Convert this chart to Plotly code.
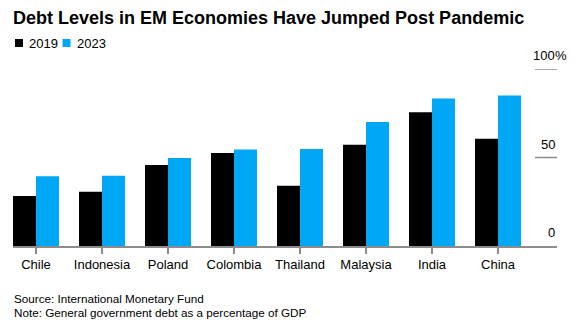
import plotly.graph_objects as go

# Data: general government debt, % of GDP
countries = ["Chile", "Indonesia", "Poland", "Colombia", "Thailand", "Malaysia", "India", "China"]
debt_2019 = [28.3, 30.6, 45.7, 52.6, 34.0, 57.2, 75.6, 60.6]
debt_2023 = [39.4, 39.7, 49.7, 54.5, 54.8, 70.1, 83.4, 85.0]
y_ticks = [0, 50, 100]

BLACK = "#000000"
BLUE = "#00A7F5"
GRID = "#8c8c8c"
FONT = "Liberation Sans, Arial, sans-serif"

W, H = 576, 328
M_L, M_R, M_T, M_B = 13, 19, 69, 82
plot_h = H - M_T - M_B
plot_w = W - M_L - M_R


def py(pixel_y):
    """Convert a pixel row of the page into paper-y coordinates."""
    return (H - M_B - pixel_y) / plot_h


def px(pixel_x):
    """Convert a pixel column of the page into paper-x coordinates."""
    return (pixel_x - M_L) / plot_w


fig = go.Figure()
fig.add_trace(go.Bar(x=countries, y=debt_2019, name="2019", marker_color=BLACK,
                     marker_line_width=0))
fig.add_trace(go.Bar(x=countries, y=debt_2023, name="2023", marker_color=BLUE,
                     marker_line_width=0))

annotations = []
shapes = []

# Right-side value labels sitting above short grid stubs
for v in y_ticks:
    annotations.append(dict(x=1, xref="paper", y=v, yref="y", text=str(v),
                            xanchor="right", yanchor="bottom", showarrow=False,
                            yshift=4, font=dict(size=13, color=BLACK, family=FONT)))
    if v > 0:
        shapes.append(dict(type="line", xref="paper", yref="y",
                           x0=px(535), x1=1, y0=v, y1=v,
                           line=dict(color=GRID, width=1.5)))
annotations.append(dict(x=1, xref="paper", y=y_ticks[-1], yref="y", text="%",
                        xanchor="left", yanchor="bottom", showarrow=False,
                        xshift=-4, yshift=4, font=dict(size=13, color=BLACK, family=FONT)))

# Legend: small squares with labels
legend_items = [("2019", BLACK, 15), ("2023", BLUE, 62.5)]
for label, color, x0 in legend_items:
    shapes.append(dict(type="rect", xref="paper", yref="paper",
                       x0=px(x0), x1=px(x0 + 8), y0=py(47), y1=py(39),
                       fillcolor=color, line=dict(width=0)))
    annotations.append(dict(x=px(x0 + 12), xref="paper", y=py(43), yref="paper",
                            text=label, xanchor="left", yanchor="middle",
                            showarrow=False, font=dict(size=13, color=BLACK, family=FONT)))

# Footer
annotations.append(dict(x=px(12), xref="paper", y=py(298), yref="paper",
                        text="Source: International Monetary Fund",
                        xanchor="left", yanchor="middle", showarrow=False,
                        font=dict(size=11.7, color=BLACK, family=FONT)))
annotations.append(dict(x=px(12), xref="paper", y=py(312), yref="paper",
                        text="Note: General government debt as a percentage of GDP",
                        xanchor="left", yanchor="middle", showarrow=False,
                        font=dict(size=11.7, color=BLACK, family=FONT)))

fig.update_layout(
    width=W, height=H,
    margin=dict(l=M_L, r=M_R, t=M_T, b=M_B, pad=0),
    paper_bgcolor="white", plot_bgcolor="white",
    barmode="group", bargap=0.303, bargroupgap=0,
    showlegend=False,
    title=dict(text="<b>Debt Levels in EM Economies Have Jumped Post Pandemic</b>",
               x=13 / W, xanchor="left", xref="container",
               y=1 - 18 / H, yanchor="middle", yref="container",
               font=dict(size=18, color=BLACK, family=FONT)),
    xaxis=dict(range=[-23 / 66, -23 / 66 + plot_w / 66], showgrid=False,
               showline=True, linecolor=GRID, linewidth=1.5,
               ticks="outside", ticklen=6, tickcolor=GRID, tickwidth=1.5,
               tickfont=dict(size=13, color=BLACK, family=FONT),
               fixedrange=True, zeroline=False),
    yaxis=dict(range=[0, 100], showgrid=False, showticklabels=False,
               zeroline=False, showline=False, fixedrange=True),
    annotations=annotations,
    shapes=shapes,
)

fig.write_html("out.html")
